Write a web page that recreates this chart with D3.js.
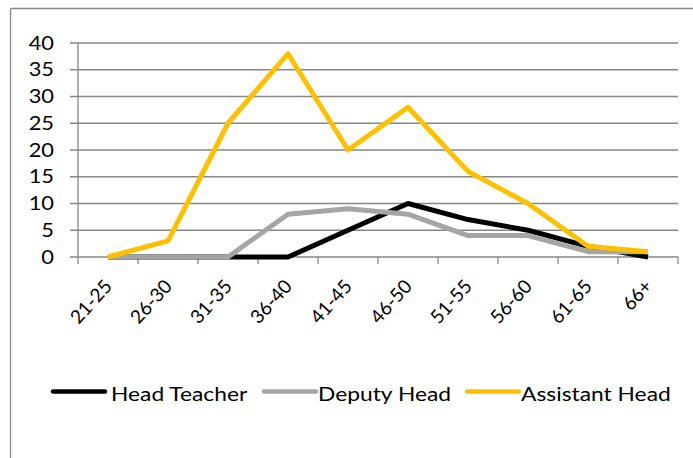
<!DOCTYPE html>
<html><head><meta charset="utf-8">
<script src="https://cdn.jsdelivr.net/npm/d3@7/dist/d3.min.js"></script>
<style>body{margin:0;background:#fff}svg{display:block}text{font-family:Lato,"Open Sans",sans-serif;fill:#000}</style>
</head><body>
<svg id="c" width="693" height="458"></svg>
<script>
const categories = ["21-25","26-30","31-35","36-40","41-45","46-50","51-55","56-60","61-65","66+"];
const headTeacher = [0,0,0,0,5,10,7,5,2,0];
const deputyHead = [0,0,0,8,9,8,4,4,1,1];
const assistantHead = [0,3,25,38,20,28,16,10,2,1];
const yTicks = [0,5,10,15,20,25,30,35,40];
const seriesNames = ["Head Teacher","Deputy Head","Assistant Head"];
const seriesColors = ["#000000","#A5A5A5","#FFC000"];
const seriesData = [headTeacher, deputyHead, assistantHead];

const svg = d3.select("#c");
svg.append("line").attr("x1",10.5).attr("y1",8.5).attr("x2",693).attr("y2",8.5).attr("stroke","#888").attr("stroke-width",1.3);
svg.append("line").attr("x1",10.5).attr("y1",8.5).attr("x2",10.5).attr("y2",458).attr("stroke","#888").attr("stroke-width",1.3);

const L=78, R=678, T=43, B=257;
const x = d3.scaleBand().domain(categories).range([L,R]);
const y = d3.scaleLinear().domain([0,40]).range([B,T]);

svg.append("g").selectAll("line").data(yTicks).join("line")
  .attr("x1",L-8).attr("x2",R).attr("y1",d=>y(d)).attr("y2",d=>y(d))
  .attr("stroke","#878787").attr("stroke-width",1.3);
svg.append("line").attr("x1",L).attr("x2",L).attr("y1",T).attr("y2",B).attr("stroke","#878787").attr("stroke-width",1.3);
svg.append("g").selectAll("text").data(yTicks).join("text")
  .attr("transform",d=>`translate(54,${y(d)}) scale(1.18,1)`)
  .attr("dy","0.36em").attr("text-anchor","end")
  .style("font-size","18.5px").text(d=>d);
const bounds = categories.map(c=>x(c)).concat([R]);
svg.append("g").selectAll("line").data(bounds).join("line")
  .attr("x1",d=>d).attr("x2",d=>d).attr("y1",B).attr("y2",B+7)
  .attr("stroke","#878787").attr("stroke-width",1.3);
svg.append("g").selectAll("text").data(categories).join("text")
  .attr("transform",d=>`translate(${x(d)+x.bandwidth()/2},${B+25.5}) rotate(-48)`)
  .attr("text-anchor","end").attr("dy","0.36em")
  .style("font-size","19px").text(d=>d);

const line = d3.line().x((d,i)=>x(categories[i])+x.bandwidth()/2).y(d=>y(d));
seriesData.forEach((s,k)=>{
  svg.append("path").datum(s).attr("d",line).attr("fill","none")
    .attr("stroke",seriesColors[k]).attr("stroke-width",5).attr("stroke-linejoin","round");
});

const legY = 391.5;
const legX = [53,264,467];
const legTextX = [111,318,521];
seriesNames.forEach((n,k)=>{
  svg.append("line").attr("x1",legX[k]).attr("x2",legX[k]+52).attr("y1",legY).attr("y2",legY)
    .attr("stroke",seriesColors[k]).attr("stroke-width",4.5).attr("stroke-linecap","round");
  svg.append("text").attr("transform",`translate(${legTextX[k]},394) scale(1.14,1)`).attr("dy","0.35em")
    .style("font-size","20px").text(n);
});
</script>
</body></html>
